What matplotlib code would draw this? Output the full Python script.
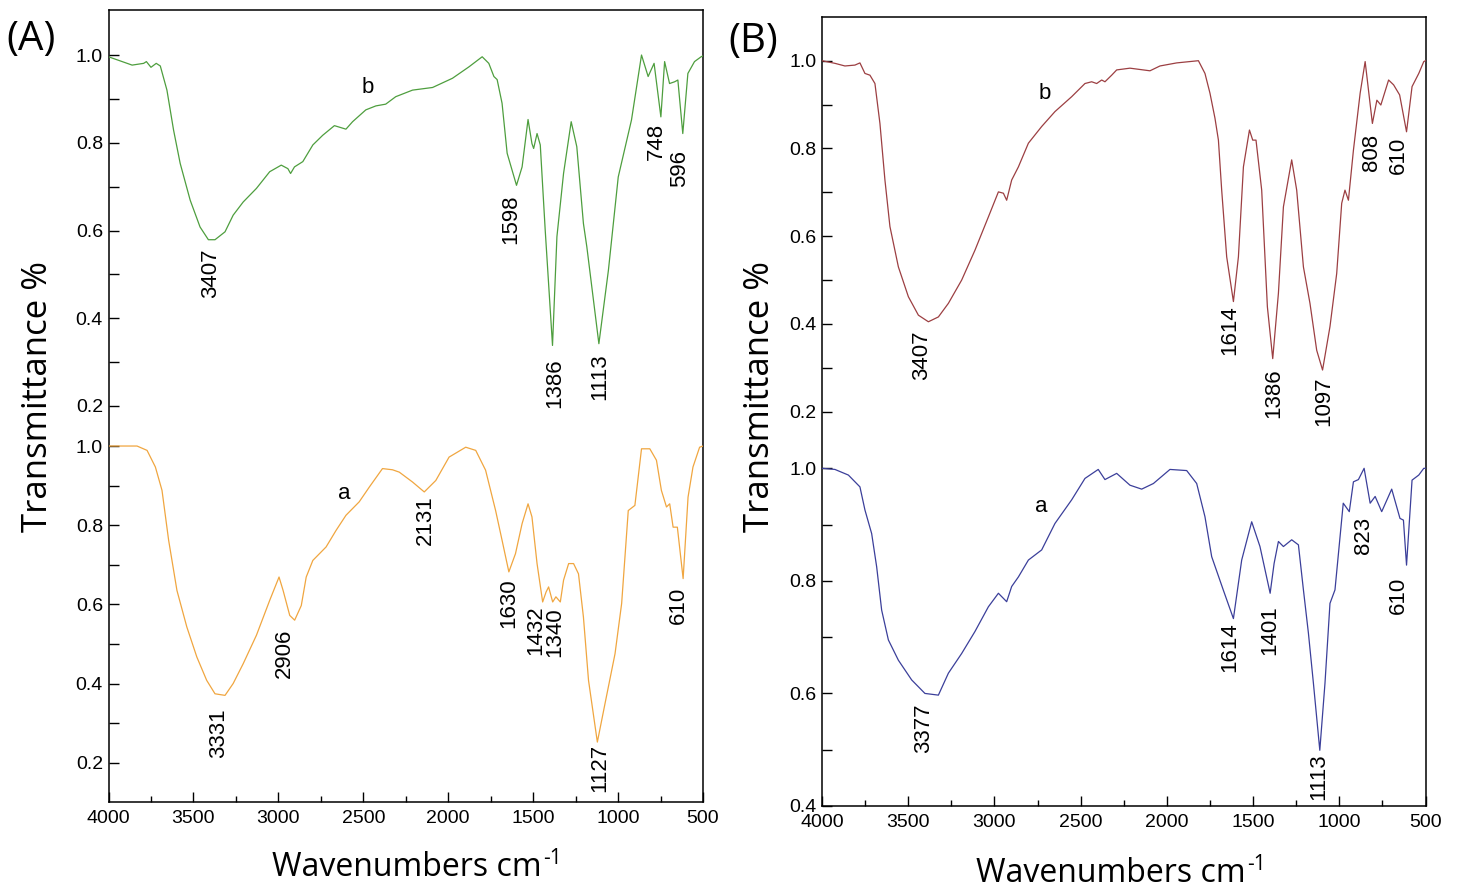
import matplotlib
matplotlib.use("Agg")
import matplotlib.pyplot as plt
from matplotlib.ticker import MultipleLocator, FixedLocator

# ---- data (wavenumber, transmittance) ----
# (A) spectrum b, top, green
wn_A_b = [4000, 3861, 3793, 3777, 3750, 3719, 3695, 3656, 3617, 3578, 3519, 3461, 3412, 3373,
          3314, 3266, 3207, 3129, 3051, 2983, 2944, 2928, 2905, 2856, 2797, 2739, 2670, 2602,
          2563, 2485, 2426, 2368, 2309, 2210, 2092, 1975, 1878, 1800, 1761, 1731, 1712, 1683,
          1653, 1598, 1565, 1530, 1507, 1497, 1477, 1458, 1429, 1386, 1360, 1321, 1276, 1243,
          1204, 1184, 1113, 1057, 999, 921, 862, 823, 788, 748, 726, 697, 667, 648, 619, 589,
          550, 511, 500]
tr_A_b = [0.996, 0.977, 0.981, 0.985, 0.972, 0.981, 0.975, 0.92, 0.829, 0.753, 0.669, 0.608, 0.579,
          0.579, 0.597, 0.635, 0.665, 0.696, 0.734, 0.749, 0.741, 0.730, 0.745, 0.757, 0.795, 0.817,
          0.839, 0.831, 0.848, 0.875, 0.884, 0.888, 0.905, 0.920, 0.926, 0.947, 0.973, 0.996, 0.981,
          0.951, 0.944, 0.890, 0.776, 0.703, 0.745, 0.853, 0.798, 0.787, 0.821, 0.795, 0.601, 0.338,
          0.586, 0.730, 0.848, 0.791, 0.616, 0.563, 0.342, 0.509, 0.722, 0.852, 1.0, 0.951, 0.981,
          0.859, 0.985, 0.935, 0.939, 0.943, 0.821, 0.958, 0.985, 0.996, 0.998]

# (A) spectrum a, bottom, orange
wn_A_a = [4000, 3832, 3773, 3724, 3685, 3646, 3597, 3539, 3480, 3422, 3373, 3314, 3266, 3207,
          3129, 3051, 2996, 2972, 2933, 2904, 2865, 2836, 2797, 2719, 2660, 2602, 2524, 2465,
          2387, 2328, 2288, 2210, 2141, 2073, 1995, 1897, 1838, 1780, 1721, 1683, 1643, 1604,
          1565, 1530, 1507, 1477, 1444, 1424, 1409, 1385, 1366, 1340, 1321, 1291, 1262, 1233,
          1204, 1174, 1122, 1077, 1018, 979, 940, 901, 862, 813, 774, 745, 715, 696, 676, 651,
          617, 588, 559, 520, 500]
tr_A_a = [1.0, 1.0, 0.989, 0.947, 0.888, 0.762, 0.635, 0.543, 0.467, 0.408, 0.374, 0.370, 0.400,
          0.450, 0.522, 0.610, 0.669, 0.635, 0.572, 0.560, 0.597, 0.669, 0.711, 0.745, 0.787, 0.825,
          0.859, 0.896, 0.943, 0.940, 0.934, 0.909, 0.884, 0.913, 0.972, 0.997, 0.989, 0.939, 0.837,
          0.762, 0.682, 0.728, 0.804, 0.854, 0.821, 0.703, 0.606, 0.631, 0.644, 0.606, 0.619, 0.606,
          0.661, 0.703, 0.703, 0.677, 0.568, 0.408, 0.252, 0.349, 0.475, 0.602, 0.837, 0.850, 0.993,
          0.993, 0.964, 0.888, 0.846, 0.854, 0.795, 0.795, 0.665, 0.871, 0.947, 0.997, 1.0]

# (B) spectrum b, top, brown
wn_B_b = [4000, 3925, 3867, 3809, 3780, 3751, 3722, 3693, 3664, 3635, 3606, 3557, 3499, 3441,
          3383, 3325, 3267, 3190, 3113, 3035, 2977, 2948, 2929, 2900, 2861, 2803, 2726, 2649,
          2552, 2475, 2436, 2407, 2378, 2359, 2320, 2291, 2214, 2098, 2040, 1943, 1817, 1779,
          1750, 1721, 1701, 1682, 1653, 1614, 1585, 1556, 1521, 1502, 1483, 1450, 1417, 1386,
          1353, 1324, 1276, 1247, 1208, 1170, 1131, 1097, 1054, 1015, 986, 967, 947, 918, 879,
          850, 808, 782, 759, 714, 685, 650, 610, 578, 539, 510, 500]
tr_B_b = [1.0, 0.994, 0.988, 0.990, 0.995, 0.971, 0.967, 0.948, 0.857, 0.728, 0.622, 0.530, 0.462,
          0.420, 0.405, 0.416, 0.447, 0.500, 0.568, 0.644, 0.701, 0.698, 0.682, 0.728, 0.758, 0.812,
          0.850, 0.884, 0.918, 0.948, 0.952, 0.948, 0.956, 0.952, 0.967, 0.979, 0.983, 0.977, 0.988,
          0.995, 1.0, 0.971, 0.926, 0.869, 0.819, 0.705, 0.553, 0.451, 0.553, 0.758, 0.842, 0.819,
          0.819, 0.705, 0.439, 0.321, 0.470, 0.667, 0.774, 0.705, 0.530, 0.447, 0.340, 0.295, 0.394,
          0.515, 0.675, 0.705, 0.682, 0.796, 0.926, 0.998, 0.857, 0.910, 0.899, 0.956, 0.945, 0.922,
          0.838, 0.941, 0.971, 0.998, 1.0]

# (B) spectrum a, bottom, blue
wn_B_a = [4000, 3925, 3847, 3780, 3751, 3712, 3683, 3654, 3615, 3557, 3480, 3403, 3325, 3267,
          3190, 3113, 3035, 2977, 2929, 2900, 2861, 2803, 2726, 2649, 2552, 2475, 2398, 2359,
          2291, 2214, 2146, 2078, 1982, 1885, 1827, 1779, 1740, 1673, 1614, 1566, 1508, 1460,
          1401, 1378, 1353, 1324, 1276, 1237, 1208, 1179, 1150, 1113, 1083, 1054, 1025, 977,
          942, 918, 889, 856, 821, 792, 754, 696, 648, 628, 610, 578, 539, 510, 500]
tr_B_a = [1.0, 0.998, 0.988, 0.967, 0.926, 0.884, 0.825, 0.748, 0.695, 0.659, 0.624, 0.600, 0.597,
          0.636, 0.671, 0.710, 0.754, 0.778, 0.763, 0.790, 0.807, 0.837, 0.855, 0.902, 0.944, 0.982,
          0.998, 0.980, 0.991, 0.970, 0.963, 0.973, 0.998, 0.996, 0.973, 0.914, 0.843, 0.784, 0.733,
          0.837, 0.905, 0.861, 0.778, 0.831, 0.870, 0.861, 0.873, 0.864, 0.784, 0.707, 0.618, 0.499,
          0.618, 0.760, 0.784, 0.938, 0.923, 0.976, 0.980, 1.0, 0.938, 0.950, 0.923, 0.963, 0.911,
          0.908, 0.828, 0.979, 0.988, 1.0, 1.0]

# peak labels: text, x of label, y of label top
peaks_A_b = [("3407", 3400, 0.560), ("1598", 1633, 0.681), ("1386", 1370, 0.309),
             ("1113", 1106, 0.321), ("748", 776, 0.845), ("596", 637, 0.783)]
peaks_A_a = [("3331", 3353, 0.336), ("2906", 2962, 0.539), ("2131", 2132, 0.875),
             ("1630", 1643, 0.665), ("1432", 1487, 0.597), ("1340", 1370, 0.593),
             ("1127", 1106, 0.248), ("610", 647, 0.644)]
peaks_B_b = [("3407", 3422, 0.386), ("1614", 1634, 0.443), ("1386", 1382, 0.299),
             ("1097", 1092, 0.280), ("808", 811, 0.834), ("610", 657, 0.827)]
peaks_B_a = [("3377", 3412, 0.582), ("1614", 1634, 0.727), ("1401", 1402, 0.757),
             ("1113", 1121, 0.493), ("823", 860, 0.914), ("610", 657, 0.807)]

W, H = 1458, 891
TICK_FONT = "Liberation Sans"
LABEL_FONT = "Open Sans"

fig = plt.figure(figsize=(W / 100, H / 100), dpi=100)


def box(px0, px1, py0, py1):
    # pixel box (top-left origin) -> figure fraction rect
    return [px0 / W, 1 - py1 / H, (px1 - px0) / W, (py1 - py0) / H]


def style_y(ax, majors, minors):
    for s in ax.spines.values():
        s.set_visible(False)
    ax.patch.set_alpha(0)
    ax.set_xlim(4000, 500)
    ax.tick_params(axis="x", which="both", bottom=False, labelbottom=False)
    ax.yaxis.set_major_locator(FixedLocator(majors))
    ax.yaxis.set_minor_locator(FixedLocator(minors))
    ax.yaxis.set_major_formatter(plt.FuncFormatter(lambda v, p: f"{v:.1f}"))
    ax.tick_params(axis="y", which="major", direction="in", length=7, width=1.0,
                   pad=4, labelsize=14)
    ax.tick_params(axis="y", which="minor", direction="in", length=7, width=1.0)
    for lab in ax.get_yticklabels():
        lab.set_fontfamily(TICK_FONT)


def spectrum(ax, wn, tr, color, peaks, tag, tag_xy):
    ax.plot(wn, tr, color=color, lw=0.9)
    for txt, x, y in peaks:
        ax.text(x, y, txt, rotation=90, ha="center", va="top", fontsize=16,
                family=TICK_FONT, clip_on=False)
    ax.text(tag_xy[0], tag_xy[1], tag, ha="center", va="center", fontsize=16,
            family=TICK_FONT)


def panel(px0, px1, py_top, py_split, py_bot, top_lim, bot_lim, bot_majors, bot_minors):
    frame = fig.add_axes(box(px0, px1, py_top, py_bot))
    frame.set_xlim(4000, 500)
    frame.set_yticks([])
    frame.xaxis.set_major_locator(MultipleLocator(500))
    frame.xaxis.set_minor_locator(MultipleLocator(250))
    frame.tick_params(axis="x", which="major", direction="in", length=7, width=1.0,
                      pad=6, labelsize=14)
    frame.tick_params(axis="x", which="minor", direction="in", length=4, width=1.0)
    for lab in frame.get_xticklabels():
        lab.set_fontfamily(TICK_FONT)
    for s in frame.spines.values():
        s.set_linewidth(1.1)

    top = fig.add_axes(box(px0, px1, py_top, py_split))
    top.set_ylim(*top_lim)
    style_y(top, [0.2, 0.4, 0.6, 0.8, 1.0], [0.3, 0.5, 0.7, 0.9])

    bot = fig.add_axes(box(px0, px1, py_split, py_bot))
    bot.set_ylim(*bot_lim)
    style_y(bot, bot_majors, bot_minors)
    return top, bot


# panel A
topA, botA = panel(108.5, 703, 10, 426, 802, (0.1544, 1.1026), (0.1006, 1.0506),
                   [0.2, 0.4, 0.6, 0.8, 1.0], [0.3, 0.5, 0.7, 0.9])
spectrum(topA, wn_A_b, tr_A_b, "#4e9e3e", peaks_A_b, "b", (2471, 0.925))
spectrum(botA, wn_A_a, tr_A_a, "#f0a640", peaks_A_a, "a", (2611, 0.880))

# panel B
topB, botB = panel(822, 1425.5, 16.7, 440, 806, (0.1355, 1.1003), (0.4, 1.0503),
                   [0.4, 0.6, 0.8, 1.0], [0.5, 0.7, 0.9])
spectrum(topB, wn_B_b, tr_B_b, "#9c3f42", peaks_B_b, "b", (2707, 0.925))
spectrum(botB, wn_B_a, tr_B_a, "#3b3f9a", peaks_B_a, "a", (2726, 0.932))

# panel letters and axis titles
fig.text(6 / W, 1 - 40 / H, "(A)", fontsize=29, family=LABEL_FONT, va="center", ha="left")
fig.text(728 / W, 1 - 42 / H, "(B)", fontsize=29, family=LABEL_FONT, va="center", ha="left")
for xc in (38, 760):
    fig.text(xc / W, 1 - 396 / H, "Transmittance %", rotation=90, fontsize=25,
             family=LABEL_FONT, ha="center", va="center")

fig.canvas.draw()
renderer = fig.canvas.get_renderer()
for xl, yb in ((272, 876), (976, 882)):
    t = fig.text(xl / W, 1 - yb / H, "Wavenumbers cm", fontsize=23,
                 family=LABEL_FONT, ha="left", va="baseline")
    bb = t.get_window_extent(renderer)
    fig.text((bb.x1 + 1) / W, (bb.y0 + bb.height * 0.62) / H, "-1", fontsize=15,
             family=LABEL_FONT, ha="left", va="baseline")

fig.savefig("out.png", dpi=100, facecolor="white")
